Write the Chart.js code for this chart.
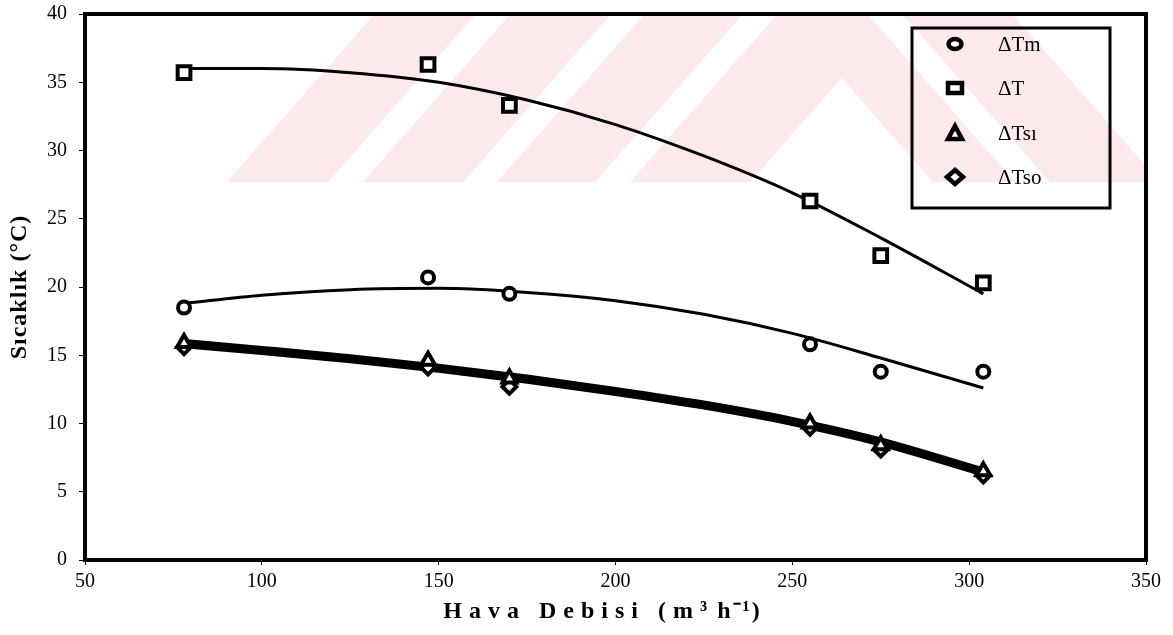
<!DOCTYPE html>
<html>
<head>
<meta charset="utf-8">
<script src="https://cdn.jsdelivr.net/npm/chart.js@4/dist/chart.umd.min.js"></script>
<style>
  body { margin: 0; background: #fff; }
  #wrap { width: 1173px; height: 635px; }
</style>
</head>
<body>
<div id="wrap"><canvas id="chart" width="1173" height="635"></canvas></div>
<script>
// measured points
const xValues = [78, 147, 170, 255, 275, 304];
const dTm  = [18.5, 20.7, 19.5, 15.8, 13.8, 13.8];
const dT   = [35.7, 36.3, 33.3, 26.3, 22.3, 20.3];
const dTsi = [15.9, 14.6, 13.3, 10.0, 8.4, 6.5];
const dTso = [15.6, 14.1, 12.7, 9.7, 8.1, 6.2];

// fitted curves
const fitX   = [78, 100, 125, 150, 175, 200, 225, 250, 275, 304];
const fitTm  = [18.8, 19.4, 19.8, 19.9, 19.6, 19.0, 18.0, 16.6, 14.8, 12.6];
const fitT   = [36.0, 36.0, 35.7, 35.0, 33.7, 31.9, 29.6, 26.9, 23.6, 19.5];
const fitTsi = [16.0, 15.5, 14.9, 14.2, 13.4, 12.5, 11.5, 10.3, 8.8, 6.6];
const fitTso = [15.7, 15.2, 14.6, 13.9, 13.1, 12.2, 11.2, 10.0, 8.5, 6.3];

const labels = ["ΔTm", "ΔT", "ΔTsı", "ΔTso"];
const styles = ["circle", "rect", "triangle", "rectRot"];
const xTicks = [50, 100, 150, 200, 250, 300, 350];
const yTicks = [0, 5, 10, 15, 20, 25, 30, 35, 40];

const FONT = "'Liberation Serif', 'Times New Roman', serif";

function pts(xs, ys) {
  return xs.map((x, i) => ({ x: x, y: ys[i] }));
}

function fitSet(ys, width) {
  return {
    data: pts(fitX, ys),
    showLine: true,
    borderColor: "#000",
    borderWidth: width,
    pointRadius: 0,
    cubicInterpolationMode: "monotone",
    fill: false
  };
}

const radii = { circle: 6, rect: 9, triangle: 8, rectRot: 7 };

function markSet(i, ys) {
  return {
    label: labels[i],
    data: pts(xValues, ys),
    showLine: false,
    pointStyle: styles[i],
    pointRadius: radii[styles[i]],
    pointBorderWidth: 4,
    pointBorderColor: "#000",
    pointBackgroundColor: "#fff"
  };
}

// faint watermark in the upper band
const watermark = {
  id: "watermark",
  beforeDatasetsDraw(chart) {
    const ctx = chart.ctx;
    const top = 14, bot = 182, mid = 842, k = 0.88;
    const shift = k * (bot - top);
    ctx.save();
    ctx.fillStyle = "#fde8ec";
    // left half: "/" stripes
    ctx.save();
    ctx.beginPath();
    ctx.rect(85, top, mid - 85, bot - top);
    ctx.clip();
    [[227, 328], [363, 463], [497, 595], [630, 750]].forEach(([a, b]) => {
      ctx.beginPath();
      ctx.moveTo(a, bot); ctx.lineTo(b, bot);
      ctx.lineTo(b + shift, top); ctx.lineTo(a + shift, top);
      ctx.closePath(); ctx.fill();
    });
    ctx.restore();
    // right half: "\" stripes
    ctx.save();
    ctx.beginPath();
    ctx.rect(mid, top, 1146 - mid, bot - top);
    ctx.clip();
    [[933, 1015], [1050, 1160]].forEach(([a, b]) => {
      ctx.beginPath();
      ctx.moveTo(a, bot); ctx.lineTo(b, bot);
      ctx.lineTo(b - shift, top); ctx.lineTo(a - shift, top);
      ctx.closePath(); ctx.fill();
    });
    ctx.restore();
    ctx.restore();
  }
};

function drawMarker(ctx, style, x, y) {
  ctx.save();
  ctx.lineWidth = 4.5;
  ctx.strokeStyle = "#000";
  ctx.fillStyle = "#fff";
  ctx.beginPath();
  if (style === "circle") {
    ctx.ellipse(x, y, 6.5, 5, 0, 0, Math.PI * 2);
  } else if (style === "rect") {
    ctx.rect(x - 7, y - 5, 14, 10);
  } else if (style === "triangle") {
    ctx.moveTo(x, y - 7); ctx.lineTo(x + 7, y + 6); ctx.lineTo(x - 7, y + 6); ctx.closePath();
  } else {
    ctx.moveTo(x, y - 7); ctx.lineTo(x + 8, y); ctx.lineTo(x, y + 7); ctx.lineTo(x - 8, y); ctx.closePath();
  }
  ctx.fill();
  ctx.stroke();
  ctx.restore();
}

// x title drawn in pieces so the exponents stay tight
function drawXTitle(ctx, cx, y) {
  const parts = [["Hava Debisi (m", "7px"], ["³ h⁻¹", "2px"], [")", "7px"]];
  ctx.font = "bold 24px " + FONT;
  ctx.textAlign = "left";
  let total = 0;
  const widths = parts.map(([t, sp]) => {
    ctx.letterSpacing = sp;
    const w = ctx.measureText(t).width;
    total += w;
    return w;
  });
  let x = cx - total / 2;
  parts.forEach(([t, sp], i) => {
    ctx.letterSpacing = sp;
    ctx.fillText(t, x, y);
    x += widths[i];
  });
  ctx.letterSpacing = "0px";
}

// frame, legend box and axis titles
const decor = {
  id: "decor",
  afterDatasetsDraw(chart) {
    const ctx = chart.ctx;
    const a = chart.chartArea;
    ctx.save();
    ctx.strokeStyle = "#000";
    ctx.lineWidth = 4;
    ctx.strokeRect(a.left, a.top, a.right - a.left, a.bottom - a.top);

    // legend
    ctx.lineWidth = 3;
    ctx.strokeRect(912, 28, 198, 180);
    const rows = [44, 88, 133, 177];
    ctx.fillStyle = "#000";
    ctx.font = "21px " + FONT;
    ctx.textBaseline = "middle";
    ctx.textAlign = "left";
    labels.forEach((lab, i) => {
      drawMarker(ctx, styles[i], 955, rows[i]);
      ctx.fillStyle = "#000";
      ctx.fillText(lab, 998, rows[i] + 1);
    });

    // axis titles
    drawXTitle(ctx, 605, 612);
    ctx.letterSpacing = "1px";
    ctx.save();
    ctx.translate(20, 287);
    ctx.rotate(-Math.PI / 2);
    ctx.textAlign = "center";
    ctx.font = "bold 24px " + FONT;
    ctx.fillText("Sıcaklık (°C)", 0, 0);
    ctx.restore();
    ctx.restore();
  }
};

new Chart(document.getElementById("chart"), {
  type: "scatter",
  data: {
    datasets: [
      markSet(0, dTm), markSet(1, dT), markSet(2, dTsi), markSet(3, dTso),
      fitSet(fitTm, 3), fitSet(fitT, 3), fitSet(fitTsi, 5), fitSet(fitTso, 5)
    ]
  },
  options: {
    responsive: false,
    devicePixelRatio: 1,
    animation: false,
    layout: { padding: { top: 14, right: 27, left: 0, bottom: 0 } },
    plugins: { legend: { display: false }, tooltip: { enabled: false } },
    scales: {
      x: {
        type: "linear", min: 50, max: 350,
        afterBuildTicks: s => { s.ticks = xTicks.map(v => ({ value: v })); },
        afterFit: s => { s.height = 75; s.paddingLeft = 0; s.paddingRight = 0; },
        ticks: { color: "#000", font: { family: FONT, size: 20 }, padding: 5 },
        grid: { drawOnChartArea: false, tickLength: 5, color: "#000" },
        border: { display: false }
      },
      y: {
        min: 0, max: 40,
        afterBuildTicks: s => { s.ticks = yTicks.map(v => ({ value: v })); },
        afterFit: s => { s.width = 85; s.paddingTop = 0; s.paddingBottom = 0; },
        ticks: { color: "#000", font: { family: FONT, size: 20 }, padding: 12 },
        grid: { drawOnChartArea: false, tickLength: 6, color: "#000" },
        border: { display: false }
      }
    }
  },
  plugins: [watermark, decor]
});
</script>
</body>
</html>
